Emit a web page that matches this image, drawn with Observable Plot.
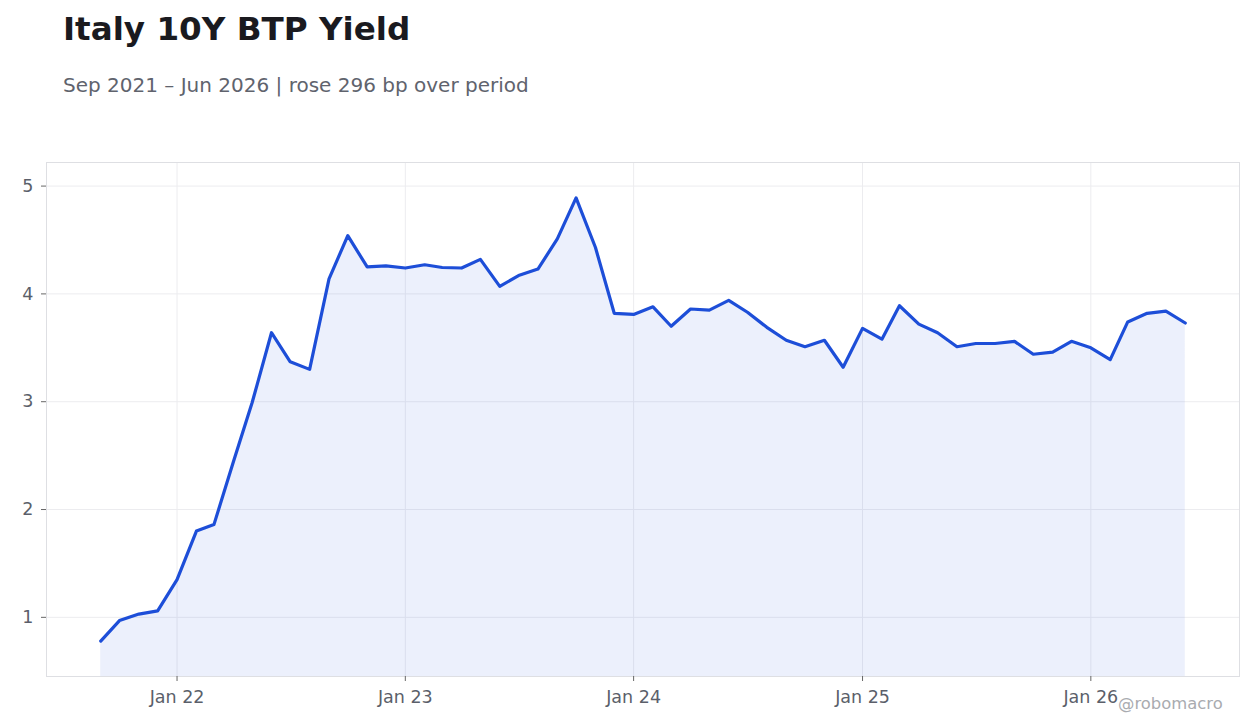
<!DOCTYPE html>
<html>
<head>
<meta charset="utf-8">
<script src="https://cdn.jsdelivr.net/npm/d3@7"></script>
<script src="https://cdn.jsdelivr.net/npm/@observablehq/plot@0.6"></script>
<style>
  html, body { margin: 0; padding: 0; background: #fff; }
  body { width: 1260px; height: 728px; position: relative; overflow: hidden; font-family: "DejaVu Sans", sans-serif; }
  #title { position: absolute; left: 63px; top: 10px; font-size: 32.6px; font-weight: bold; color: #1a1a1f; white-space: nowrap; }
  #subtitle { position: absolute; left: 63px; top: 73px; font-size: 20px; color: #60636d; white-space: nowrap; }
  #chart { position: absolute; left: 0; top: 140px; }
  #caption { position: absolute; left: 1118px; top: 694px; font-size: 16.4px; color: #a9abb0; white-space: nowrap; }
</style>
</head>
<body>
<div id="title">Italy 10Y BTP Yield</div>
<div id="subtitle">Sep 2021 – Jun 2026 | rose 296 bp over period</div>
<div id="chart"></div>
<div id="caption">@robomacro</div>
<script>
const months = [
  "2021-09","2021-10","2021-11","2021-12",
  "2022-01","2022-02","2022-03","2022-04","2022-05","2022-06","2022-07","2022-08","2022-09","2022-10","2022-11","2022-12",
  "2023-01","2023-02","2023-03","2023-04","2023-05","2023-06","2023-07","2023-08","2023-09","2023-10","2023-11","2023-12",
  "2024-01","2024-02","2024-03","2024-04","2024-05","2024-06","2024-07","2024-08","2024-09","2024-10","2024-11","2024-12",
  "2025-01","2025-02","2025-03","2025-04","2025-05","2025-06","2025-07","2025-08","2025-09","2025-10","2025-11","2025-12",
  "2026-01","2026-02","2026-03","2026-04","2026-05","2026-06"
];
const yields = [
  0.78, 0.97, 1.03, 1.06,
  1.35, 1.80, 1.86, 2.44, 2.99, 3.64, 3.37, 3.30, 4.14, 4.54, 4.25, 4.26,
  4.24, 4.27, 4.245, 4.24, 4.32, 4.07, 4.17, 4.23, 4.51, 4.89, 4.43, 3.82,
  3.81, 3.88, 3.70, 3.86, 3.85, 3.94, 3.83, 3.69, 3.57, 3.51, 3.57, 3.32,
  3.68, 3.58, 3.89, 3.72, 3.64, 3.51, 3.54, 3.54, 3.56, 3.44, 3.46, 3.56,
  3.50, 3.39, 3.74, 3.82, 3.84, 3.73
];
const yTicks = [1, 2, 3, 4, 5];
const xTickYears = ["2022-01-01", "2023-01-01", "2024-01-01", "2025-01-01", "2026-01-01"];

const data = months.map((m, i) => ({ date: new Date(m + "-01T00:00:00Z"), value: yields[i] }));
const xTicks = xTickYears.map(s => new Date(s + "T00:00:00Z"));

const [dMin, dMax] = d3.extent(data, d => d.date);
const dPad = (dMax - dMin) * 0.05;
const [vMin, vMax] = d3.extent(data, d => d.value);
const vPad = (vMax - vMin) * 0.08;
const yBase = vMin - vPad;

const lineColor = "#1d4ed8";
const gridColor = "#ececef";
const textColor = "#5b5f6a";

const chart = Plot.plot({
  width: 1260,
  height: 588,
  marginLeft: 46,
  marginRight: 21,
  marginTop: 22,
  marginBottom: 52,
  style: { fontFamily: "DejaVu Sans, sans-serif", fontSize: "17.5px", color: textColor, background: "#fff" },
  x: {
    type: "utc",
    domain: [new Date(+dMin - dPad), new Date(+dMax + dPad)],
    label: null
  },
  y: {
    domain: [yBase, vMax + vPad],
    label: null
  },
  marks: [
    Plot.gridX(xTicks, { stroke: gridColor, strokeOpacity: 1 }),
    Plot.gridY(yTicks, { stroke: gridColor, strokeOpacity: 1 }),
    Plot.areaY(data, { x: "date", y1: yBase, y2: "value", fill: lineColor, fillOpacity: 0.085 }),
    Plot.lineY(data, { x: "date", y: "value", stroke: lineColor, strokeWidth: 3.2, strokeLinejoin: "round" }),
    Plot.frame({ stroke: "#dedfe3", strokeOpacity: 1 }),
    Plot.axisX({ ticks: xTicks, tickFormat: d3.utcFormat("%b %y"), tickSize: 5, tickPadding: 9, stroke: "#666", fill: textColor }),
    Plot.axisY({ ticks: yTicks, tickFormat: d3.format("d"), tickSize: 5, tickPadding: 8, stroke: "#666", fill: textColor })
  ]
});
document.getElementById("chart").appendChild(chart);
</script>
</body>
</html>
